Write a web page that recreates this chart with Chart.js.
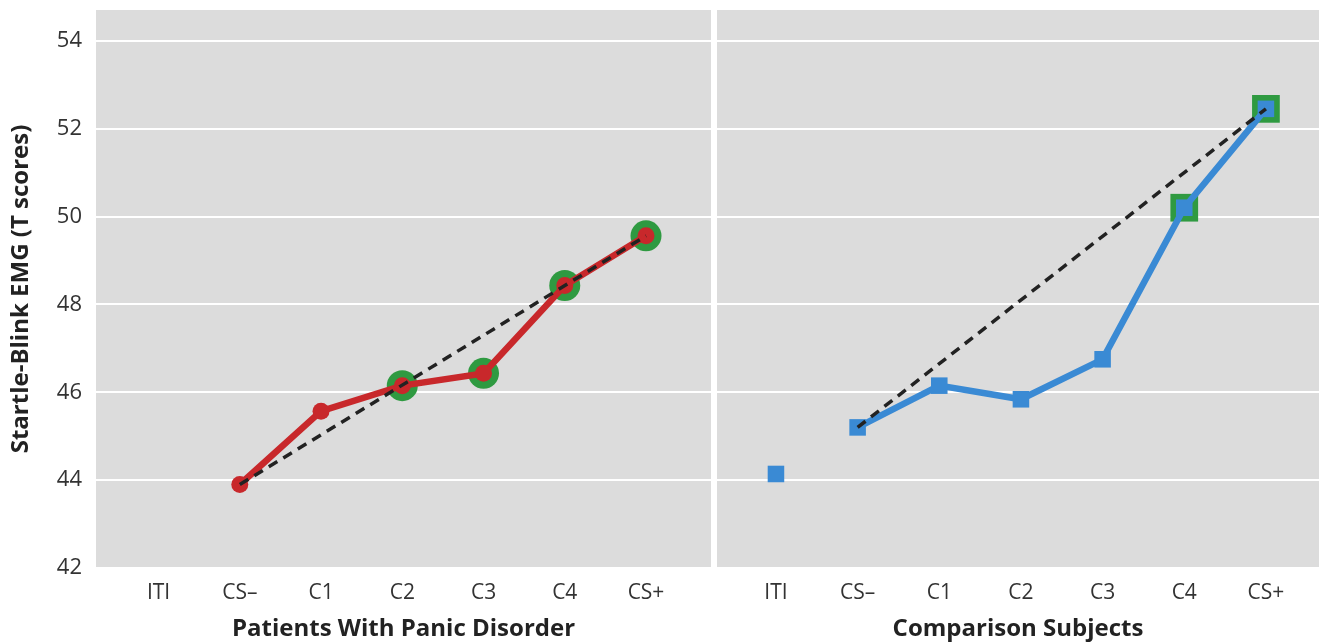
<!DOCTYPE html>
<html>
<head>
<meta charset="utf-8">
<script src="https://cdn.jsdelivr.net/npm/chart.js@4.4.1/dist/chart.umd.min.js"></script>
<style>
  body { margin: 0; background: #fff; }
  #wrap { position: relative; width: 1319px; height: 644px; }
  canvas { position: absolute; top: 0; }
  #leftChart { left: 0; }
  #rightChart { left: 717px; }
</style>
</head>
<body>
<div id="wrap">
  <canvas id="leftChart" width="711" height="644"></canvas>
  <canvas id="rightChart" width="602" height="644"></canvas>
</div>
<script>
// categories and values
var categories = ['ITI', 'CS\u2013', 'C1', 'C2', 'C3', 'C4', 'CS+'];
var patientValues = [null, 43.9, 45.57, 46.15, 46.43, 48.43, 49.56];
var comparisonValues = [44.14, 45.2, 46.15, 45.84, 46.75, 50.2, 52.45];
var patientHighlight = ['C2', 'C3', 'C4', 'CS+'];
var comparisonHighlight = ['C4', 'CS+'];
var yTicks = [42, 44, 46, 48, 50, 52, 54];

var RED = '#c8282b';
var BLUE = '#3a8ad4';
var GREEN = '#2f9a41';
var FONT = "'Open Sans', sans-serif";

var bgPlugin = {
  id: 'bg',
  beforeDraw: function (chart) {
    var a = chart.chartArea;
    var ctx = chart.ctx;
    ctx.save();
    ctx.fillStyle = '#dcdcdc';
    ctx.fillRect(a.left, a.top, a.right - a.left, a.bottom - a.top);
    ctx.restore();
  }
};

function toPoints(values) {
  return values.map(function (v, i) { return { x: i, y: v }; });
}

function highlightPoints(values, names) {
  return values.map(function (v, i) {
    return { x: i, y: names.indexOf(categories[i]) >= 0 ? v : null };
  });
}

// dashed line from CS- to CS+
function trendPoints(values) {
  var a = categories.indexOf('CS\u2013');
  var b = categories.indexOf('CS+');
  return [{ x: a, y: values[a] }, { x: b, y: values[b] }];
}

function buildChart(id, opts) {
  var ctx = document.getElementById(id).getContext('2d');
  return new Chart(ctx, {
    type: 'line',
    data: {
      datasets: [
        {
          data: trendPoints(opts.values),
          borderColor: '#222',
          borderWidth: 3.5,
          borderDash: [10, 7],
          pointRadius: 0,
          order: 0
        },
        {
          data: toPoints(opts.values),
          borderColor: opts.color,
          backgroundColor: opts.color,
          borderWidth: 6.5,
          pointStyle: opts.style,
          pointRadius: opts.radius,
          pointBorderWidth: 0,
          spanGaps: false,
          // no line from ITI to CS-
          segment: {
            borderColor: function (c) { return c.p0DataIndex === 0 ? 'rgba(0,0,0,0)' : opts.color; }
          },
          order: 1
        },
        {
          data: highlightPoints(opts.values, opts.highlight),
          showLine: false,
          backgroundColor: GREEN,
          borderColor: GREEN,
          pointStyle: opts.style,
          pointRadius: opts.bigRadius,
          pointBorderWidth: 0,
          order: 2
        }
      ]
    },
    options: {
      responsive: false,
      animation: false,
      devicePixelRatio: 1,
      layout: { autoPadding: false, padding: { top: 10, right: 0, left: 0, bottom: 0 } },
      plugins: { legend: { display: false }, tooltip: { enabled: false } },
      scales: {
        x: {
          type: 'linear',
          min: opts.xMin,
          max: opts.xMax,
          afterBuildTicks: function (s) {
            s.ticks = categories.map(function (c, i) { return { value: i }; });
          },
          afterFit: function (s) {
            s.height = 76;
            s.paddingLeft = 0;
            s.paddingRight = 0;
          },
          grid: { display: false },
          border: { display: false },
          ticks: {
            autoSkip: false,
            maxRotation: 0,
            padding: 4,
            color: '#333',
            font: { family: FONT, size: 21 },
            callback: function (v) { return categories[v]; }
          },
          title: {
            display: true,
            text: opts.xTitle,
            color: '#222',
            font: { family: FONT, size: 24, weight: 'bold' },
            padding: { top: 0, bottom: 0 }
          }
        },
        y: {
          min: 42,
          max: 54.7,
          afterBuildTicks: function (s) {
            s.ticks = yTicks.map(function (v) { return { value: v }; });
          },
          afterFit: function (s) {
            s.width = opts.yWidth;
            s.paddingTop = 0;
            s.paddingBottom = 0;
          },
          grid: { color: '#ffffff', lineWidth: 2, drawTicks: false },
          border: { display: false },
          ticks: {
            display: opts.showY,
            padding: 14,
            color: '#333',
            font: { family: FONT, size: 22 }
          },
          title: {
            display: opts.showY,
            text: 'Startle-Blink EMG (T scores)',
            color: '#222',
            font: { family: FONT, size: 24, weight: 'bold' },
            padding: { top: 7, bottom: 0 }
          }
        }
      }
    },
    plugins: [bgPlugin]
  });
}

buildChart('leftChart', {
  values: patientValues,
  highlight: patientHighlight,
  color: RED,
  style: 'circle',
  radius: 8.5,
  bigRadius: 15.5,
  xMin: -0.77,
  xMax: 6.8,
  xTitle: 'Patients With Panic Disorder',
  yWidth: 96,
  showY: true
});

buildChart('rightChart', {
  values: comparisonValues,
  highlight: comparisonHighlight,
  color: BLUE,
  style: 'rect',
  radius: 11.7,
  bigRadius: 19.6,
  xMin: -0.722,
  xMax: 6.65,
  xTitle: 'Comparison Subjects',
  yWidth: 0,
  showY: false
});
</script>
</body>
</html>
